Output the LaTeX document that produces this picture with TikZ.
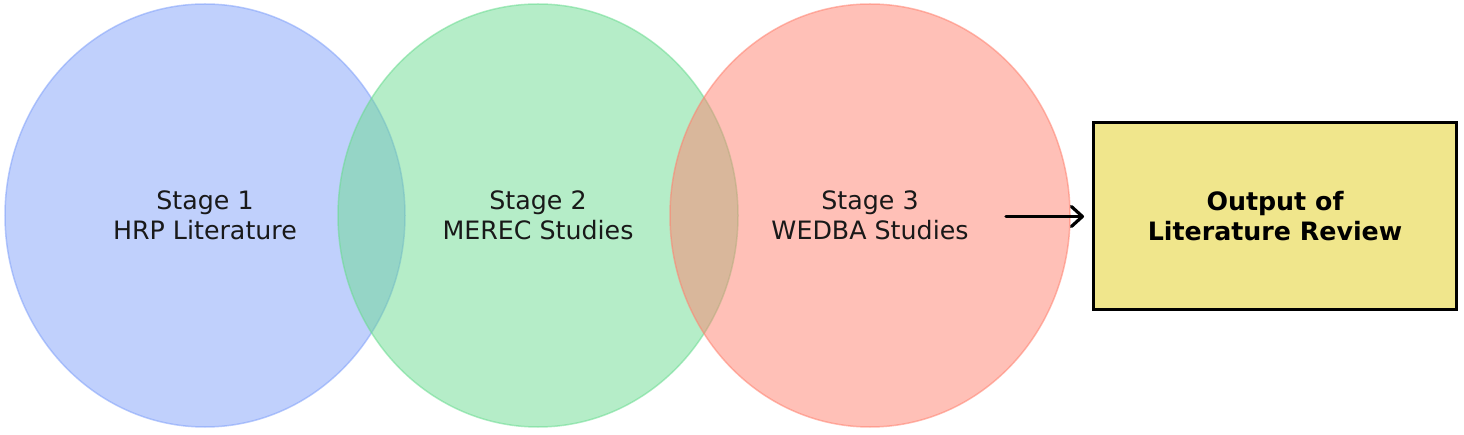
\documentclass[tikz,border=0pt]{standalone}
\usepackage{fontspec}
\setmainfont{DejaVu Sans}
\usetikzlibrary{shapes.geometric,arrows.meta}
\definecolor{cblue}{RGB}{129,161,249}
\definecolor{cgreen}{RGB}{107,219,145}
\definecolor{cred}{RGB}{255,129,111}
\definecolor{ckhaki}{RGB}{240,230,140}
\tikzset{
  stage/.style={ellipse, minimum width=400pt, minimum height=423pt, inner sep=0pt,
    fill=#1, fill opacity=0.5, draw=#1, draw opacity=0.55, line width=1.5pt,
    text opacity=1, text=black!90, align=center,
    font=\fontsize{25.3}{30}\selectfont},
  outbox/.style={draw=black, fill=ckhaki, line width=3pt, minimum width=363pt,
    minimum height=187pt, inner sep=0pt, align=center,
    font=\fontsize{25.3}{30}\selectfont\bfseries},
  flow/.style={draw=black, line width=3.2pt, line cap=round, shorten >=8pt,
    -{Straight Barb[length=11pt,width=20pt,round]}}
}
\begin{document}
\begin{tikzpicture}[x=1pt,y=-1pt]
\useasboundingbox (0,0) rectangle (1464,435);
\node[stage=cblue] (s1) at (205,215.5) {Stage 1\\HRP Literature};
\node[stage=cgreen] (s2) at (538,215.5) {Stage 2\\MEREC Studies};
\node[stage=cred] (s3) at (870,215.5) {Stage 3\\WEDBA Studies};
\node[outbox] (out) at (1275,216.5) {Output of\\Literature Review};
\coordinate (a0) at (1006,216.5);
\draw[flow] (a0) -- (out.west);
\end{tikzpicture}
\end{document}
